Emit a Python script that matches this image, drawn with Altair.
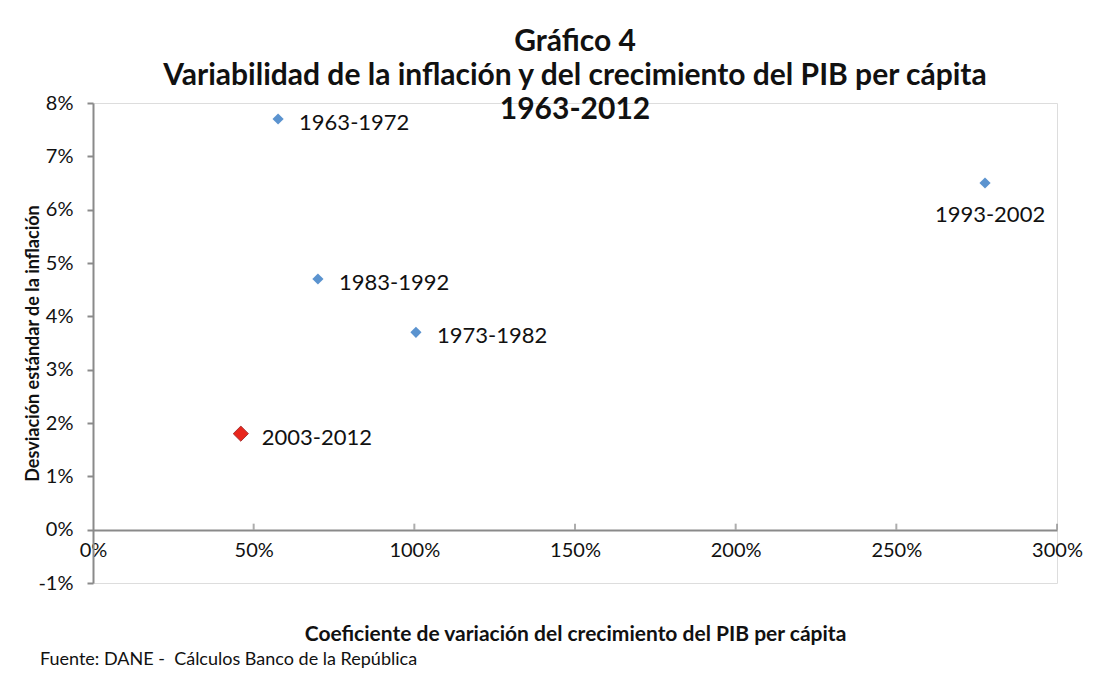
import altair as alt
import pandas as pd

periods = ["1963-1972", "1973-1982", "1983-1992", "1993-2002", "2003-2012"]
coef_var_pib = [57.6, 100.5, 70.0, 277.6, 46.0]      # % coeficiente de variación
desv_inflacion = [7.7, 3.7, 4.7, 6.5, 1.8]           # % desviación estándar
x_ticks = [0, 50, 100, 150, 200, 250, 300]
y_ticks = [-1, 0, 1, 2, 3, 4, 5, 6, 7, 8]

df = pd.DataFrame({"periodo": periods, "x": coef_var_pib, "y": desv_inflacion})
ticks_df = pd.DataFrame({"t": x_ticks[1:], "zero": [0] * (len(x_ticks) - 1)})

FONT = "Lato"
GRAY = "#8a8a8a"
BLUE = "#5b93cf"
RED = "#e8261c"

xscale = alt.Scale(domain=[0, 300], nice=False, zero=False)
yscale = alt.Scale(domain=[-1, 8], nice=False, zero=False)

x_enc = alt.X(
    "x:Q", scale=xscale,
    title="Coeficiente de variación del crecimiento del PIB per cápita",
    axis=alt.Axis(values=x_ticks, labelExpr="datum.value + '%'", offset=-53,
                  ticks=False, grid=False, domainColor=GRAY, domainWidth=2,
                  labelFlush=False,
                  labelFont=FONT, labelFontSize=20, labelColor="#111",
                  labelPadding=10, titleFont=FONT, titleFontSize=21,
                  titleFontWeight="bold", titleColor="#111",
                  titleY=104, titleBaseline="middle"),
)
y_enc = alt.Y(
    "y:Q", scale=yscale,
    title="Desviación estándar de la inflación",
    axis=alt.Axis(values=y_ticks, labelExpr="datum.value + '%'", grid=False,
                  tickColor=GRAY, tickSize=6, tickWidth=2,
                  domainColor=GRAY, domainWidth=2, labelFlush=False,
                  labelFont=FONT, labelFontSize=20, labelColor="#111",
                  labelPadding=14, titleFont=FONT, titleFontSize=18,
                  titleFontWeight="bold", titleColor="#111",
                  titleX=-60, titleY=240, titleAngle=-90,
                  titleAlign="center", titleBaseline="middle"),
)

base = alt.Chart(df)

blue_pts = base.transform_filter(alt.datum.periodo != "2003-2012").mark_point(
    shape="diamond", filled=True, size=125, color=BLUE, opacity=1
).encode(x=x_enc, y=y_enc)

red_pt = base.transform_filter(alt.datum.periodo == "2003-2012").mark_point(
    shape="diamond", filled=True, size=230, color=RED, stroke="#a33",
    strokeWidth=1, opacity=1
).encode(x="x:Q", y="y:Q")

labels_right = base.transform_filter(alt.datum.periodo != "1993-2002").mark_text(
    align="left", baseline="middle", dx=21, dy=4, font=FONT, fontSize=22, color="#111"
).encode(x="x:Q", y="y:Q", text="periodo:N")

labels_below = base.transform_filter(alt.datum.periodo == "1993-2002").mark_text(
    align="center", baseline="middle", dx=5, dy=32, font=FONT, fontSize=22, color="#111"
).encode(x="x:Q", y="y:Q", text="periodo:N")

up_ticks = alt.Chart(ticks_df).mark_tick(
    orient="vertical", size=6, thickness=2, color=GRAY, yOffset=-3
).encode(x=alt.X("t:Q", scale=xscale), y=alt.Y("zero:Q", scale=yscale))

source = alt.Chart(pd.DataFrame({"s": ["Fuente: DANE -\u00a0 Cálculos Banco de la República"]})).mark_text(
    align="left", baseline="middle", font=FONT, fontSize=18, color="#111"
).encode(x=alt.value(-53), y=alt.value(557), text="s:N")

chart = alt.layer(
    up_ticks, blue_pts, red_pt, labels_right, labels_below, source
).properties(
    width=964, height=480,
    autosize=alt.AutoSizeParams(type="none"),
    padding={"left": 85, "top": 95, "right": 47, "bottom": 88},
    title=alt.TitleParams(
        text=["Gráfico 4", "Variabilidad de la inflación y del crecimiento del PIB per cápita", "1963-2012"],
        font=FONT, fontSize=30, fontWeight="bold", color="#111",
        lineHeight=34, anchor="middle", offset=-32,
    ),
).configure_view(stroke=None).configure(background="white")

chart.save("out.html", embed_options={"renderer": "svg", "actions": False})
